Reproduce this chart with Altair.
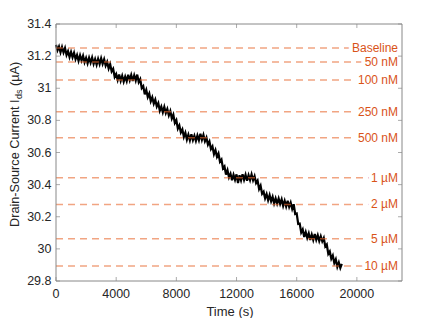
import altair as alt
import pandas as pd

# ---------------- data ----------------
time_s = list(range(0, 19001, 100))
current_uA = [
    31.270, 31.236, 31.260, 31.224, 31.257, 31.223, 31.250, 31.207, 31.230, 31.194,
    31.226, 31.192, 31.221, 31.181, 31.207, 31.170, 31.205, 31.173, 31.202, 31.162,
    31.189, 31.155, 31.190, 31.159, 31.191, 31.152, 31.181, 31.147, 31.183, 31.151,
    31.187, 31.152, 31.180, 31.141, 31.164, 31.123, 31.150, 31.105, 31.121, 31.070,
    31.088, 31.052, 31.086, 31.046, 31.077, 31.041, 31.072, 31.044, 31.084, 31.050,
    31.083, 31.045, 31.080, 31.048, 31.085, 31.038, 31.056, 31.001, 31.013, 30.962,
    30.990, 30.945, 30.967, 30.919, 30.944, 30.904, 30.929, 30.887, 30.908, 30.860,
    30.885, 30.850, 30.884, 30.846, 30.871, 30.831, 30.858, 30.812, 30.835, 30.784,
    30.802, 30.749, 30.769, 30.725, 30.744, 30.697, 30.723, 30.680, 30.711, 30.676,
    30.713, 30.677, 30.705, 30.672, 30.706, 30.676, 30.717, 30.679, 30.709, 30.670,
    30.692, 30.649, 30.669, 30.622, 30.638, 30.590, 30.615, 30.573, 30.594, 30.543,
    30.556, 30.501, 30.513, 30.462, 30.490, 30.445, 30.467, 30.427, 30.461, 30.430,
    30.464, 30.410, 30.458, 30.427, 30.465, 30.430, 30.462, 30.424, 30.459, 30.429,
    30.464, 30.427, 30.453, 30.410, 30.425, 30.373, 30.394, 30.343, 30.356, 30.315,
    30.341, 30.303, 30.335, 30.296, 30.324, 30.283, 30.314, 30.282, 30.314, 30.280,
    30.308, 30.267, 30.299, 30.264, 30.299, 30.261, 30.288, 30.249, 30.278, 30.217,
    30.220, 30.155, 30.157, 30.102, 30.121, 30.074, 30.105, 30.069, 30.097, 30.055,
    30.089, 30.055, 30.092, 30.056, 30.085, 30.049, 30.079, 30.047, 30.068, 30.015,
    30.027, 29.969, 29.984, 29.939, 29.959, 29.912, 29.935, 29.888, 29.915, 29.881,
    29.907,
]

level_values = [31.25, 31.163, 31.051, 30.854, 30.692, 30.443, 30.277, 30.063, 29.893]
level_labels = ["Baseline", "50 nM", "100 nM", "250 nM", "500 nM",
                "1 µM", "2 µM", "5 µM", "10 µM"]

x_ticks = [0, 4000, 8000, 12000, 16000, 20000]
y_ticks = [29.8, 30.0, 30.2, 30.4, 30.6, 30.8, 31.0, 31.2, 31.4]

# ---------------- styling ----------------
W, H = 346, 257
FONT = "Liberation Sans"
TXT = "#262626"
FRAME = "#888888"
ORANGE = "#D95319"

xs = alt.Scale(domain=[0, 23000], nice=False, zero=False)
ys = alt.Scale(domain=[29.8, 31.4], nice=False, zero=False)

trace_df = pd.DataFrame({"t": time_s, "i": current_uA})
lvl_df = pd.DataFrame({"level": level_values, "label": level_labels})
xt_df = pd.DataFrame({"tx": x_ticks})
yt_df = pd.DataFrame({"ty": y_ticks})
one = pd.DataFrame({"k": [0]})

trace = alt.Chart(trace_df).mark_line(color="black", strokeWidth=2.2).encode(
    x=alt.X("t:Q", scale=xs, axis=None),
    y=alt.Y("i:Q", scale=ys, axis=None),
)

rules = alt.Chart(lvl_df).mark_rule(
    color="#E8692F", opacity=0.6, strokeWidth=1.5, strokeDash=[7, 5]
).encode(
    y=alt.Y("level:Q", scale=ys, axis=None),
    x=alt.value(0), x2=alt.value(W),
)

halo = alt.Chart(lvl_df).mark_text(
    align="right", baseline="middle", font=FONT, fontSize=12,
    color="white", stroke="white", strokeWidth=8, strokeJoin="round"
).encode(
    y=alt.Y("level:Q", scale=ys, axis=None),
    x=alt.value(W - 4), text="label:N",
)

labels = alt.Chart(lvl_df).mark_text(
    align="right", baseline="middle", font=FONT, fontSize=12, color=ORANGE
).encode(
    y=alt.Y("level:Q", scale=ys, axis=None),
    x=alt.value(W - 4), text="label:N",
)

tick_style = dict(color=FRAME, size=4, thickness=1)
xt_bottom = alt.Chart(xt_df).mark_tick(**tick_style).encode(
    x=alt.X("tx:Q", scale=xs, axis=None), y=alt.value(H - 2))
xt_top = alt.Chart(xt_df).mark_tick(**tick_style).encode(
    x=alt.X("tx:Q", scale=xs, axis=None), y=alt.value(2))
yt_left = alt.Chart(yt_df).mark_tick(**tick_style).encode(
    y=alt.Y("ty:Q", scale=ys, axis=None), x=alt.value(2))
yt_right = alt.Chart(yt_df).mark_tick(**tick_style).encode(
    y=alt.Y("ty:Q", scale=ys, axis=None), x=alt.value(W - 2))

# tick labels
xlab = alt.Chart(xt_df).mark_text(
    align="center", baseline="top", font=FONT, fontSize=12.5, color=TXT
).encode(x=alt.X("tx:Q", scale=xs, axis=None), y=alt.value(H + 7),
         text=alt.Text("tx:Q", format="d"))
ylab = alt.Chart(yt_df).mark_text(
    align="right", baseline="middle", font=FONT, fontSize=12.5, color=TXT
).encode(y=alt.Y("ty:Q", scale=ys, axis=None), x=alt.value(-4.5),
         text=alt.Text("ty:Q", format=".1~f"))

frame = alt.Chart(one).mark_rect(filled=False, stroke=FRAME, strokeWidth=1).encode(
    x=alt.value(0), x2=alt.value(W), y=alt.value(0), y2=alt.value(H))

# axis titles (y title with subscript, built from pieces)
xtitle = alt.Chart(one).mark_text(
    text="Time (s)", align="center", baseline="alphabetic",
    font=FONT, fontSize=13, color=TXT
).encode(x=alt.value(W / 2 + 1), y=alt.value(292))
ytitle_main = alt.Chart(one).mark_text(
    text="Drain-Source Current I", angle=270, align="left", baseline="alphabetic",
    font=FONT, fontSize=12.7, color=TXT
).encode(x=alt.value(-37.5), y=alt.value(203))
ytitle_sub = alt.Chart(one).mark_text(
    text="ds", angle=270, align="left", baseline="alphabetic",
    font=FONT, fontSize=9, color=TXT
).encode(x=alt.value(-34.5), y=alt.value(75))
ytitle_unit = alt.Chart(one).mark_text(
    text="(µA)", angle=270, align="left", baseline="alphabetic",
    font=FONT, fontSize=12.7, color=TXT
).encode(x=alt.value(-37.5), y=alt.value(62))

chart = alt.layer(
    trace, rules, halo, labels, xt_bottom, xt_top, yt_left, yt_right, frame,
    xlab, ylab, xtitle, ytitle_main, ytitle_sub, ytitle_unit
).properties(
    width=W, height=H,
    autosize=alt.AutoSizeParams(type="none"),
    padding={"left": 48, "top": 16, "right": 26, "bottom": 37},
).configure_view(strokeWidth=0)

chart.save("out.html", embed_options={"renderer": "svg", "actions": False})
